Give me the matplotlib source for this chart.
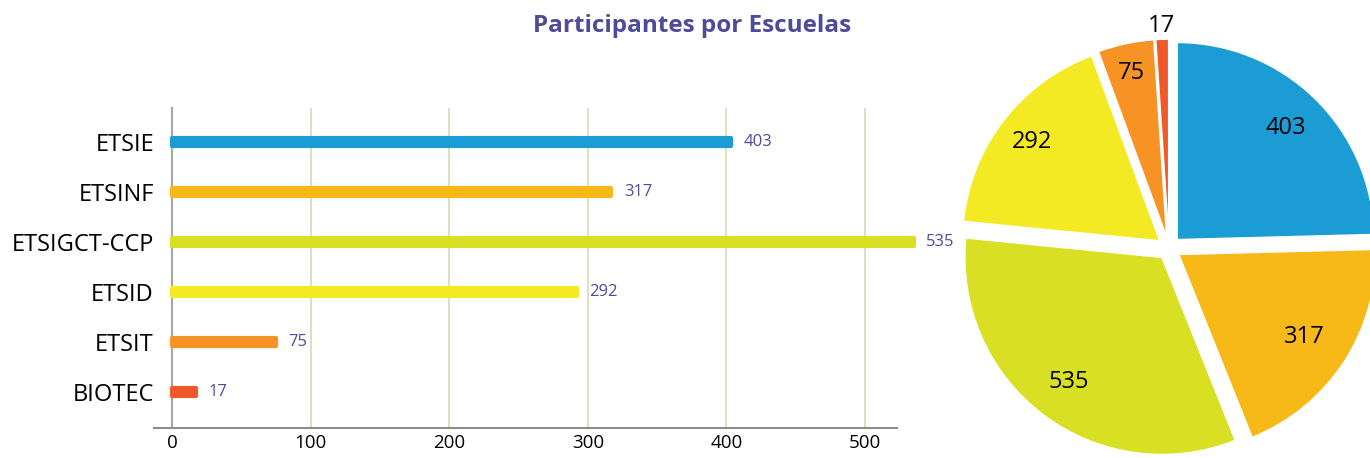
import matplotlib
matplotlib.use("Agg")
import matplotlib.pyplot as plt
import numpy as np

categories = ["ETSIE", "ETSINF", "ETSIGCT-CCP", "ETSID", "ETSIT", "BIOTEC"]
values = [403, 317, 535, 292, 75, 17]
colors = ["#1b9cd5", "#f7b917", "#d9e023", "#f4ea23", "#f69324", "#f05a29"]
xticks = [0, 100, 200, 300, 400, 500]
title = "Participantes por Escuelas"

purple = "#4f4a9c"
plt.rcParams['font.family'] = ['Open Sans', 'DejaVu Sans']

fig = plt.figure(figsize=(13.70, 4.58), dpi=100)
W, H = 1370, 458

# ---- bar chart ----
ax = fig.add_axes([154 / W, 1 - 428 / H, 743 / W, 320 / H])
for s in ['top', 'right']:
    ax.spines[s].set_visible(False)
ax.spines['left'].set_position(('data', 0))
ax.spines['left'].set_color('#a6a6a6')
ax.spines['left'].set_linewidth(1.5)
ax.spines['bottom'].set_color('#8c8c8c')
ax.spines['bottom'].set_linewidth(1.5)

ypos = np.arange(len(categories))
bars = ax.barh(ypos, values, height=0.17, color=colors, edgecolor=colors,
               linewidth=3, joinstyle='round', zorder=3, clip_on=False)
ax.set_xlim(-13, 523)
ax.set_ylim(5.72, -0.68)
ax.set_yticks(ypos)
ax.set_yticklabels(categories, fontsize=17, color='black')
ax.set_xticks(xticks)
ax.set_xticklabels([str(t) for t in xticks], fontsize=13.5, color='black')
ax.tick_params(axis='both', length=0)
ax.tick_params(axis='y', pad=13)
ax.tick_params(axis='x', pad=4)
for lbl in ax.get_yticklabels():
    lbl.set_y(lbl.get_position()[1])
ax.grid(axis='x', color='#d5dbb5', linewidth=1.2, zorder=0)
ax.set_axisbelow(True)
for y, v in zip(ypos, values):
    ax.annotate(str(v), xy=(v, y), xytext=(9, 0), textcoords='offset points',
                ha='left', va='center', fontsize=12, color=purple,
                annotation_clip=False)

# ---- title ----
fig.text(692 / W, 1 - 26 / H, title, ha='center', va='center',
         fontsize=17.5, fontweight='bold', color=purple)

# ---- pie ----
r_px = 197
lim = 1.2
size = 2 * lim * r_px
cx, cy = 1169, 248
pax = fig.add_axes([(cx - size / 2) / W, (H - cy - size / 2) / H, size / W, size / H])
wedges, _ = pax.pie(values, colors=colors, startangle=90, counterclock=False,
                    explode=[0.06] * len(values),
                    wedgeprops=dict(edgecolor='white', linewidth=1.0))
pax.set_xlim(-lim, lim)
pax.set_ylim(-lim, lim)
pax.set_aspect('equal')
pax.axis('off')
label_radius = [0.79, 0.76, 0.79, 0.82, 0.85, 1.07]
for w, v, lr in zip(wedges, values, label_radius):
    ang = np.deg2rad((w.theta1 + w.theta2) / 2)
    x0, y0 = w.center
    pax.text(x0 + lr * np.cos(ang), y0 + lr * np.sin(ang), str(v),
             ha='center', va='center', fontsize=17, color='black', clip_on=False)

fig.savefig("out.png", dpi=100)
